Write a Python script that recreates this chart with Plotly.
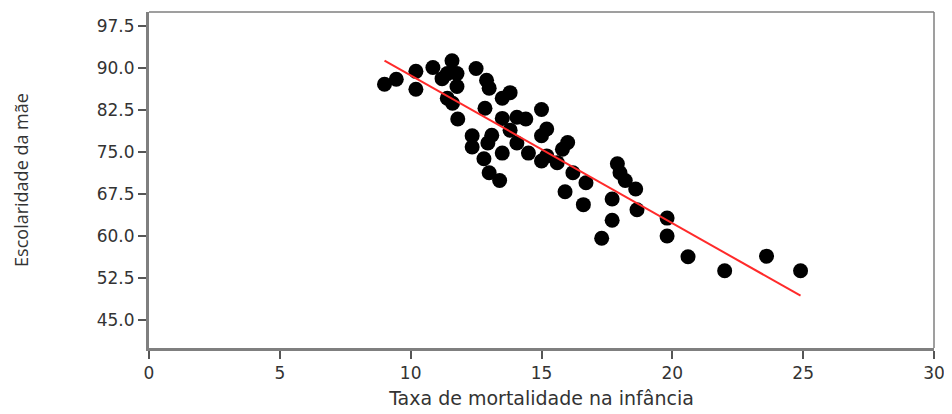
import numpy as np
import plotly.graph_objects as go

# Taxa de mortalidade na infância (x) vs Escolaridade da mãe (y)
mortalidade = [9.0, 9.45, 10.2, 10.2, 10.85, 11.58, 11.2, 11.4, 11.77, 11.77,
               11.4, 11.6, 11.8, 12.35, 12.35, 12.8, 12.5, 12.9, 13.0, 13.8,
               13.5, 12.84, 15.0, 13.5, 14.06, 14.4, 13.8, 13.1, 15.2, 15.0,
               12.95, 14.06, 13.5, 14.5, 15.2, 15.0, 13.0, 13.4, 16.0, 15.8,
               15.6, 16.2, 16.7, 15.9, 16.6, 17.9, 18.0, 18.2, 18.6, 17.7,
               17.7, 17.3, 18.65, 19.8, 19.8, 20.6, 22.0, 23.6, 24.9]
escolaridade = [87.1, 88.0, 89.4, 86.2, 90.1, 91.3, 88.1, 89.0, 89.0, 86.7,
                84.6, 83.7, 80.9, 77.9, 75.9, 73.8, 89.9, 87.8, 86.4, 85.6,
                84.6, 82.8, 82.6, 81.0, 81.2, 80.9, 78.9, 78.0, 79.1, 77.9,
                76.6, 76.6, 74.8, 74.8, 74.3, 73.4, 71.3, 69.9, 76.7, 75.5,
                73.1, 71.3, 69.5, 67.9, 65.6, 72.9, 71.3, 69.9, 68.4, 66.6,
                62.8, 59.6, 64.7, 63.2, 60.0, 56.3, 53.8, 56.4, 53.8]

x_ticks = [0, 5, 10, 15, 20, 25, 30]
y_ticks = [45.0, 52.5, 60.0, 67.5, 75.0, 82.5, 90.0, 97.5]
y_tick_labels = ["45.0", "52.5", "60.0", "67.5", "75.0", "82.5", "90.0", "97.5"]

x = np.array(mortalidade)
y = np.array(escolaridade)
slope, intercept = np.polyfit(x, y, 1)
fit_x = np.array([x.min(), x.max()])
fit_y = intercept + slope * fit_x

fig = go.Figure()
fig.add_trace(go.Scatter(
    x=mortalidade, y=escolaridade, mode="markers",
    marker=dict(color="black", size=15, line=dict(width=0)),
    showlegend=False,
))
fig.add_trace(go.Scatter(
    x=fit_x, y=fit_y, mode="lines",
    line=dict(color="#ff2a2a", width=2),
    showlegend=False,
))

axis_common = dict(
    showgrid=False, zeroline=False, showline=True, linecolor="#7f7f7f",
    linewidth=3, ticks="outside", ticklen=8, tickwidth=2, tickcolor="#555555",
    tickfont=dict(family="DejaVu Sans", size=17, color="#333333"),
    automargin=False,
)
fig.update_xaxes(range=[0, 30], tickvals=x_ticks, **axis_common,
                 title=dict(text="Taxa de mortalidade na infância",
                            font=dict(family="DejaVu Sans", size=19, color="#333333"),
                            standoff=10))
fig.update_yaxes(range=[40, 100], tickvals=y_ticks, ticktext=y_tick_labels, **axis_common,
                 title=dict(text="Escolaridade da mãe",
                            font=dict(family="Liberation Sans Narrow, Open Sans", size=18, color="#333333"),
                            standoff=64))

# thin frame on top and right
fig.add_shape(type="line", xref="paper", yref="paper", x0=0, x1=1, y0=1, y1=1,
              line=dict(color="#7f7f7f", width=1.5))
fig.add_shape(type="line", xref="paper", yref="paper", x0=1, x1=1, y0=0, y1=1,
              line=dict(color="#7f7f7f", width=1.5))

fig.update_layout(
    width=944, height=406,
    margin=dict(l=141, r=18, t=4, b=66),
    plot_bgcolor="white", paper_bgcolor="white",
)
fig.write_html("out.html")
